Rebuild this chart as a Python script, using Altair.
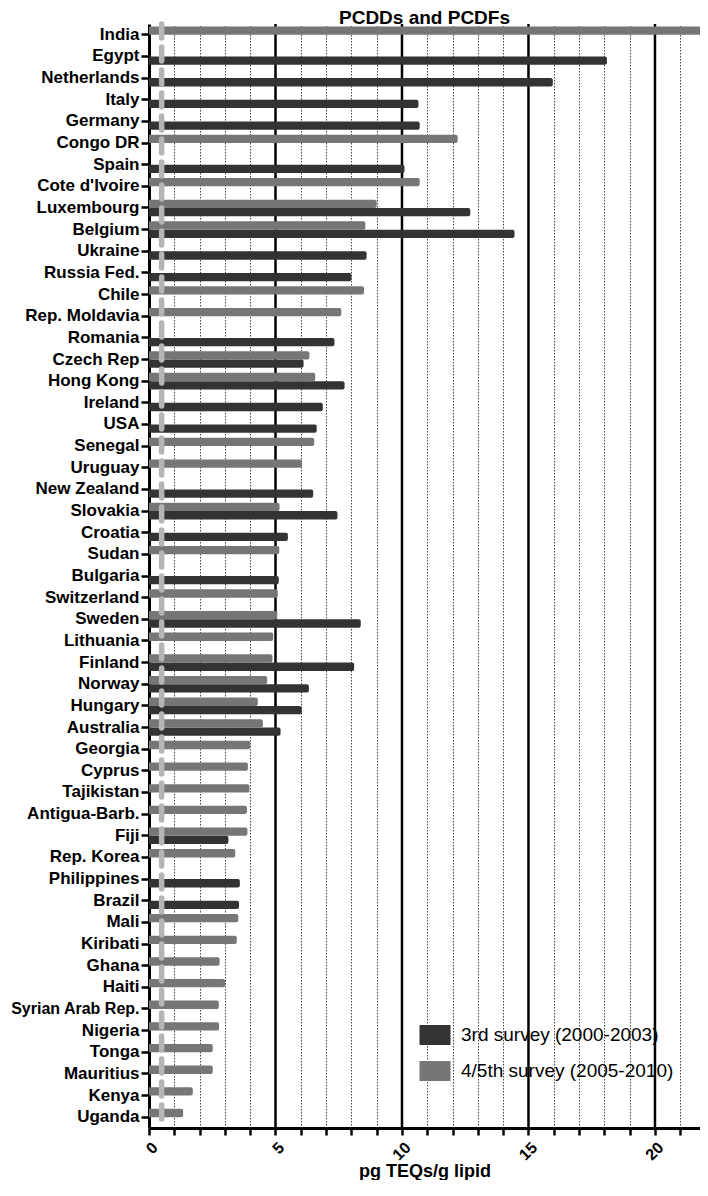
import altair as alt
import pandas as pd

countries = [
    "India", "Egypt", "Netherlands", "Italy", "Germany", "Congo DR", "Spain",
    "Cote d'Ivoire", "Luxembourg", "Belgium", "Ukraine", "Russia Fed.", "Chile",
    "Rep. Moldavia", "Romania", "Czech Rep", "Hong Kong", "Ireland", "USA",
    "Senegal", "Uruguay", "New Zealand", "Slovakia", "Croatia", "Sudan",
    "Bulgaria", "Switzerland", "Sweden", "Lithuania", "Finland", "Norway",
    "Hungary", "Australia", "Georgia", "Cyprus", "Tajikistan", "Antigua-Barb.",
    "Fiji", "Rep. Korea", "Philippines", "Brazil", "Mali", "Kiribati", "Ghana",
    "Haiti", "Syrian Arab Rep.", "Nigeria", "Tonga", "Mauritius", "Kenya", "Uganda",
]

# 3rd survey (2000-2003)
survey3 = [
    None, 18.1, 15.96, 10.65, 10.7, None, 10.1,
    None, 12.7, 14.45, 8.6, 8.0, None,
    None, 7.33, 6.11, 7.73, 6.87, 6.63,
    None, None, 6.49, 7.45, 5.49, None,
    5.13, None, 8.37, None, 8.11, 6.32,
    6.04, 5.20, None, None, None, None,
    3.14, None, 3.59, 3.56, None, None, None,
    None, None, None, None, None, None, None,
]

# 4/5th survey (2005-2010)
survey45 = [
    23.0, None, None, None, None, 12.2, None,
    10.7, 9.0, 8.55, None, None, 8.5,
    7.6, None, 6.34, 6.57, None, None,
    6.53, 6.05, None, 5.16, None, 5.15,
    None, 5.09, 5.07, 4.91, 4.88, 4.67,
    4.30, 4.50, 4.0, 3.91, 3.97, 3.87,
    3.89, 3.41, None, None, 3.53, 3.47, 2.79,
    3.01, 2.76, 2.77, 2.52, 2.52, 1.73, 1.35,
]

series_names = ["3rd survey (2000-2003)", "4/5th survey (2005-2010)"]
series_colors = ["#333333", "#767676"]
x_ticks = list(range(0, 22))
major_lines = [5, 10, 15, 20]
break_marker = [0.5]

rows = []
for c, a, b in zip(countries, survey3, survey45):
    if a is not None:
        rows.append({"country": c, "series": series_names[0], "value": a})
    if b is not None:
        rows.append({"country": c, "series": series_names[1], "value": b})
df = pd.DataFrame(rows)

FONT = "Liberation Sans"
x_title = "pg TEQs/g lipid"
x_scale = alt.Scale(domain=[0, 21.78], nice=False, zero=True)
x_axis = alt.Axis(
    values=x_ticks,
    labelExpr="datum.value % 5 === 0 ? datum.label : ''",
    labelOverlap=False,
    labelAngle=-45,
    labelFontSize=16,
    labelFontWeight="bold",
    labelPadding=4,
    tickSize=7,
    grid=True,
    gridColor="#444444",
    gridDash=[1.5, 1.5],
    gridWidth=1,
    titleFontSize=18,
    titleFontWeight="bold",
    titleBaseline="alphabetic",
    titleY=48,
)

bars = alt.Chart(df).mark_bar(clip=True, cornerRadiusEnd=2).encode(
    x=alt.X("value:Q", scale=x_scale, stack=None, title=x_title, axis=x_axis),
    y=alt.Y(
        "country:N",
        sort=countries,
        scale=alt.Scale(paddingInner=0.23, paddingOuter=0.115),
        title=None,
        axis=alt.Axis(
            labelFontSize={
                "condition": {"test": "datum.value === 'Syrian Arab Rep.'", "value": 16},
                "value": 17,
            },
            labelFontWeight="bold",
            labelPadding=2,
            tickSize=8,
            labelLimit=300,
        ),
    ),
    yOffset=alt.YOffset(
        "series:N",
        scale=alt.Scale(domain=[series_names[1], series_names[0]]),
    ),
    color=alt.Color(
        "series:N",
        scale=alt.Scale(domain=series_names, range=series_colors),
        legend=alt.Legend(
            title=None,
            orient="none",
            legendX=276,
            legendY=1001,
            symbolType="M-1.55,-1H1.55V1H-1.55Z",
            symbolSize=400,
            symbolStrokeWidth=0,
            labelFontSize=19,
            labelFont=FONT,
            labelColor="black",
            labelOffset=16,
            labelLimit=400,
            rowPadding=16,
            padding=0,
        ),
    ),
)

majors = alt.Chart(pd.DataFrame({"v": major_lines})).mark_rule(
    color="black", strokeWidth=2.5
).encode(x=alt.X("v:Q", scale=x_scale, title=x_title, axis=x_axis))

pill = alt.Chart(pd.DataFrame({"v": break_marker})).mark_rule(
    color="#b5b5b5", strokeWidth=5.5, strokeCap="round", strokeDash=[14, 9]
).encode(x=alt.X("v:Q", scale=x_scale, title=x_title, axis=x_axis))

chart = alt.layer(majors, bars, pill).properties(
    width=551,
    height=1104,
    title=alt.TitleParams(
        "PCDDs and PCDFs",
        fontSize=19,
        font=FONT,
        fontWeight="bold",
        anchor="middle",
        frame="group",
        offset=0,
        dy=7,
        color="black",
    ),
    autosize=alt.AutoSizeParams(type="none"),
    padding={"left": 141, "top": 16, "right": 0, "bottom": 52},
).configure_view(stroke=None).configure_axis(
    domainColor="black",
    domainWidth=3,
    tickColor="black",
    tickWidth=2.5,
    labelFont=FONT,
    labelColor="black",
    titleFont=FONT,
    titleColor="black",
)

chart.save("out.html", embed_options={"renderer": "svg", "actions": False})
